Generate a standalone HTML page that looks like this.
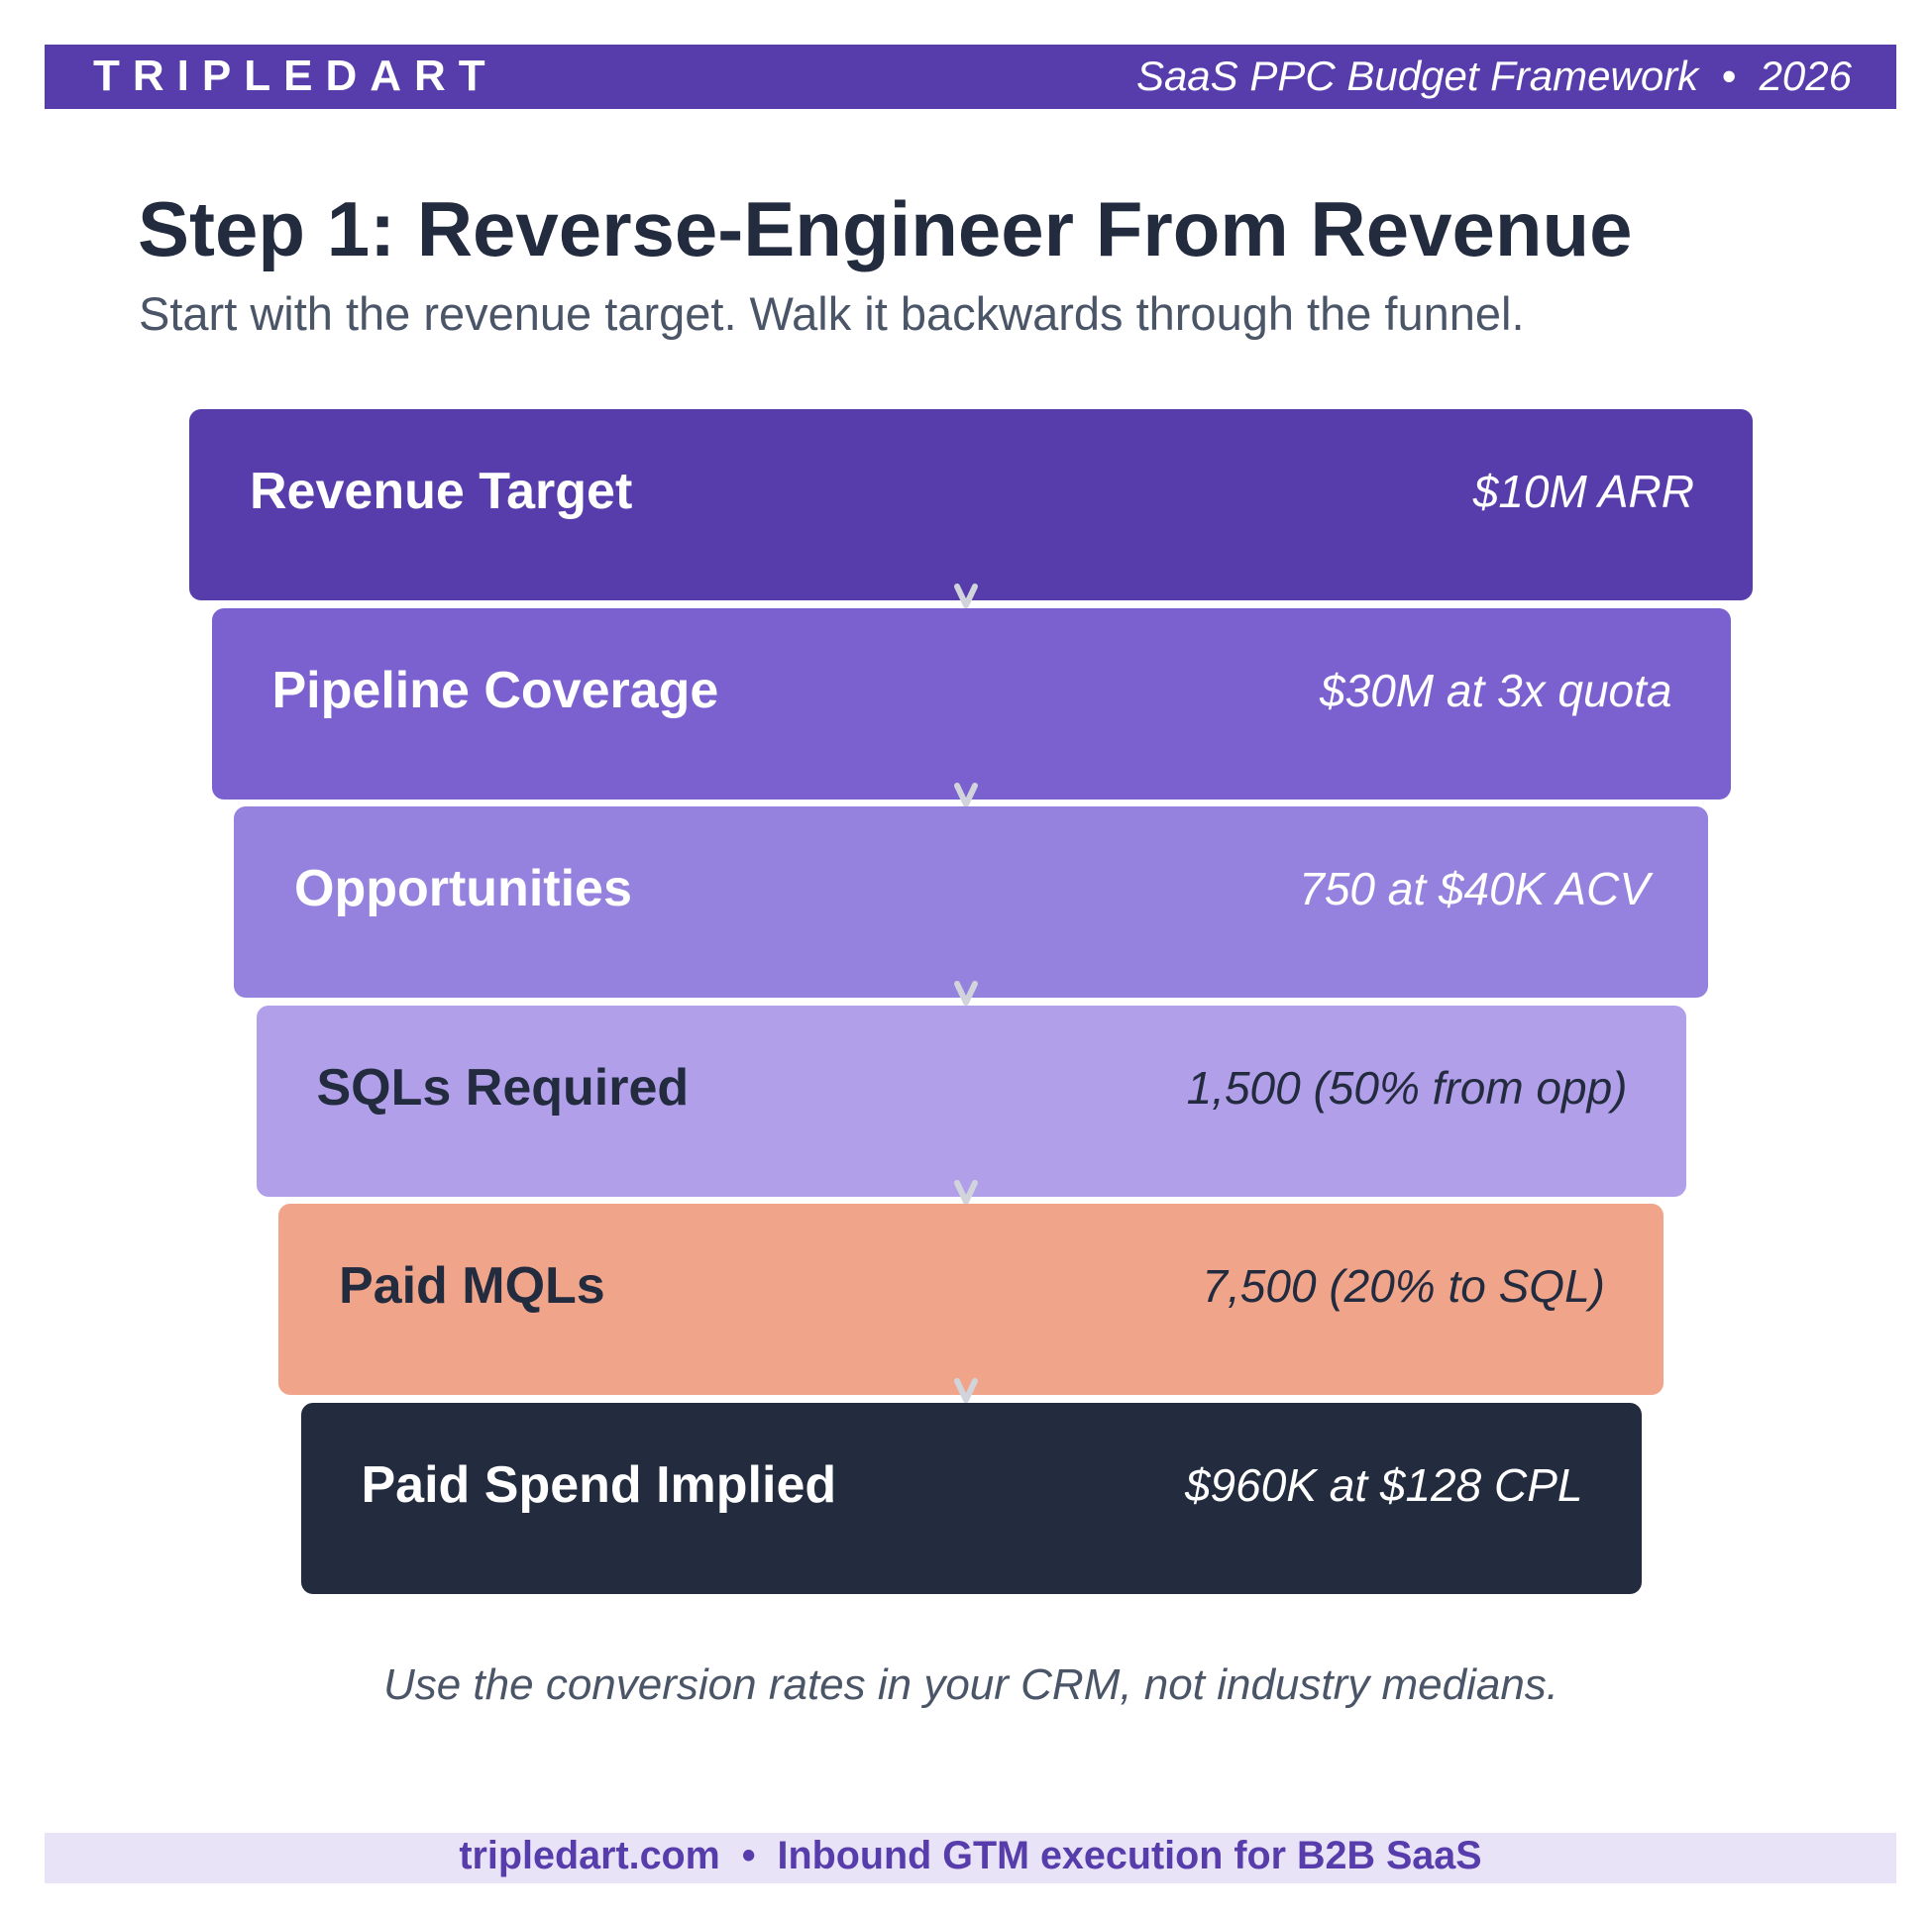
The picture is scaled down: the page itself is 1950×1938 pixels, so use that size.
<!DOCTYPE html>
<html><head><meta charset="utf-8"><style>
body{margin:0;width:1950px;height:1938px;background:#fff;position:relative;overflow:hidden;font-family:"Liberation Sans",sans-serif}
.abs{position:absolute}
.box{position:absolute;border-radius:12px}
.lab{position:absolute;font-weight:bold;font-size:52px;line-height:1;white-space:nowrap}
.val{position:absolute;font-style:italic;font-size:46px;line-height:1;white-space:nowrap;text-align:right}
</style></head><body>
<div class="abs" style="left:45px;top:45px;width:1869px;height:65px;background:#573cab"></div>
<div class="abs" style="left:94px;top:52px;font-size:44px;font-weight:bold;letter-spacing:13px;color:#fff;line-height:50px">TRIPLEDART</div>
<div class="abs" style="right:81px;top:52px;font-size:42px;font-style:italic;color:#fff;line-height:50px;white-space:nowrap">SaaS PPC Budget Framework &nbsp;•&nbsp; 2026</div>
<div class="abs" style="left:139px;top:189px;font-size:78px;font-weight:bold;color:#232b3f;line-height:84px;white-space:nowrap">Step 1: Reverse-Engineer From Revenue</div>
<div class="abs" style="left:140px;top:291px;font-size:47px;color:#4a5568;line-height:52px;white-space:nowrap">Start with the revenue target. Walk it backwards through the funnel.</div>
<div id="funnel"></div>
<div class="abs" style="left:0;width:1960px;top:1677px;text-align:center;font-size:44px;font-style:italic;color:#4a5568;line-height:48px">Use the conversion rates in your CRM, not industry medians.</div>
<div class="abs" style="left:45px;top:1850px;width:1869px;height:51px;background:#e9e3f8"></div>
<div class="abs" style="left:45px;width:1869px;top:1848px;text-align:center;font-size:39.5px;font-weight:bold;color:#573cab;line-height:51px">tripledart.com &nbsp;•&nbsp; Inbound GTM execution for B2B SaaS</div>
<script>
const labels=["Revenue Target","Pipeline Coverage","Opportunities","SQLs Required","Paid MQLs","Paid Spend Implied"];
const values=["$10M ARR","$30M at 3x quota","750 at $40K ACV","1,500 (50% from opp)","7,500 (20% to SQL)","$960K at $128 CPL"];
const fills=["#573cab","#7b61cf","#9582de","#b19fea","#f0a58a","#232b3f"];
const inks=["#fff","#fff","#fff","#232b3f","#232b3f","#fff"];
const f=document.getElementById('funnel');
labels.forEach((l,i)=>{
  const left=191+22.5*i, right=1769-22.5*i, top=413+200.5*i, h=193;
  const b=document.createElement('div');b.className='box';
  
  
  b.style.cssText=`left:${left}px;top:${top}px;width:${right-left}px;height:${h}px;background:${fills[i]}`;
  f.appendChild(b);
  const t=document.createElement('div');t.className='lab';
  
  
  t.style.cssText=`left:${left+61}px;top:${top+57}px;color:${inks[i]}`;t.textContent=l;f.appendChild(t);
  const v=document.createElement('div');v.className='val';
  
  
  v.style.cssText=`right:${1950-right+59}px;top:${top+60}px;color:${inks[i]}`;v.textContent=values[i];f.appendChild(v);
  if(i<labels.length-1){
    const a=document.createElementNS('http://www.w3.org/2000/svg','svg');
    
    
    a.setAttribute('width','30');a.setAttribute('height','30');
    a.style.cssText=`position:absolute;left:960px;top:${top+h-19}px`;
    a.innerHTML='<polyline points="6,5 15,24 24,5" fill="none" stroke="#d1d5db" stroke-width="6" stroke-linecap="round" stroke-linejoin="round"/>';
    f.appendChild(a);
  }
});
</script>
</body></html>
